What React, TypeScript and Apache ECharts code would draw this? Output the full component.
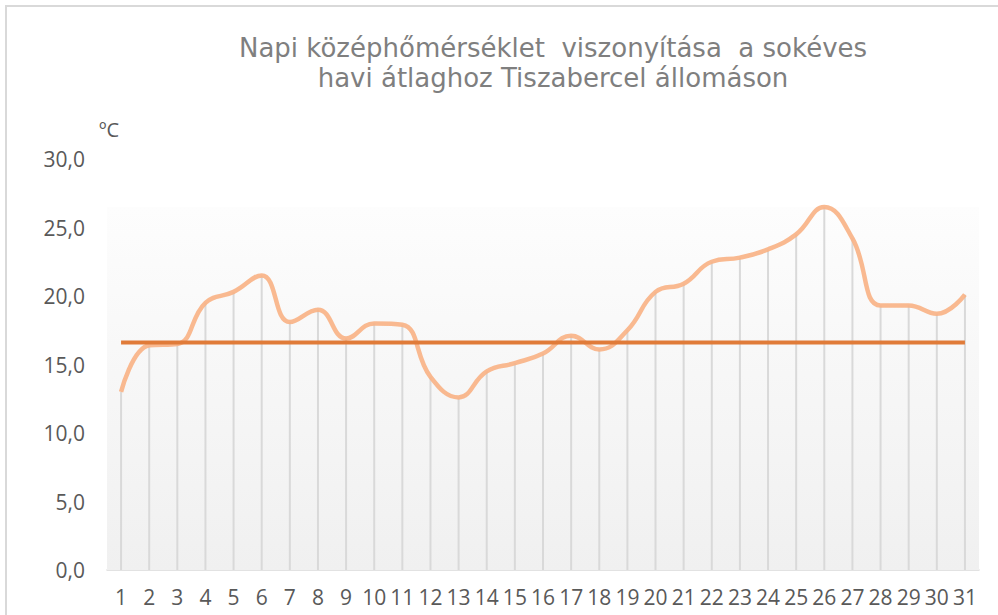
import React, { useEffect, useRef } from "react";
import * as echarts from "echarts";

const titleLines = [
  "Napi középhőmérséklet  viszonyítása  a sokéves",
  "havi átlaghoz Tiszabercel állomáson",
];
const unitLabel = "ºC";
const days = Array.from({ length: 31 }, (_, i) => String(i + 1));
const dailyMean = [
  13.0, 16.4, 16.5, 19.5, 20.3, 21.5, 18.1, 19.0, 16.9, 18.0, 17.9,
  14.1, 12.6, 14.5, 15.1, 15.8, 17.1, 16.1, 17.5, 20.3, 20.9, 22.5,
  22.8, 23.4, 24.5, 26.5, 24.2, 19.3, 19.3, 18.7, 20.1,
];
const longTermMean = 16.6;
const yMin = 0;
const yMax = 30;
const yInterval = 5;

export default function App() {
  const ref = useRef<HTMLDivElement>(null);
  useEffect(() => {
    if (!ref.current) return;
    const chart = echarts.init(ref.current, undefined, { renderer: "svg" });
    const bgTop = Math.max(...dailyMean);
    const labelFont = "'Open Sans', 'Liberation Sans', sans-serif";
    chart.setOption({
      animation: false,
      backgroundColor: "#ffffff",
      title: {
        text: titleLines.join("\n"),
        left: 548,
        top: 28,
        textAlign: "center",
        textStyle: {
          fontFamily: "'DejaVu Sans', Verdana, sans-serif",
          fontSize: 26,
          fontWeight: "normal",
          color: "#7f7f7f",
          lineHeight: 30,
        },
      },
      graphic: [
        {
          type: "rect",
          shape: { x: 6, y: 6, width: 1200, height: 1000 },
          style: { fill: "none", stroke: "#d9d9d9", lineWidth: 2 },
          silent: true,
        },
      ],
      grid: { left: 107, right: 19, top: 159, bottom: 45 },
      xAxis: {
        type: "category",
        data: days,
        boundaryGap: true,
        axisLine: { show: true, lineStyle: { color: "#d9d9d9", width: 1.5 } },
        axisTick: { show: false },
        axisLabel: {
          color: "#595959",
          fontSize: 21,
          fontFamily: labelFont,
          margin: 16,
          interval: 0,
        },
        splitLine: { show: false },
      },
      yAxis: {
        type: "value",
        min: yMin,
        max: yMax,
        interval: yInterval,
        name: unitLabel,
        nameLocation: "end",
        nameGap: 20,
        nameTextStyle: {
          color: "#595959",
          fontSize: 20,
          fontFamily: labelFont,
          align: "left",
          padding: [0, 0, 0, -8],
        },
        axisLine: { show: false },
        axisTick: { show: false },
        splitLine: { show: false },
        axisLabel: {
          color: "#595959",
          fontSize: 21,
          fontFamily: labelFont,
          margin: 22,
          formatter: (v: number) => v.toFixed(1).replace(".", ","),
        },
      },
      series: [
        {
          type: "bar",
          data: dailyMean,
          barWidth: 2,
          itemStyle: { color: "#d9d9d9" },
          silent: true,
          z: 1,
          markArea: {
            silent: true,
            itemStyle: {
              color: {
                type: "linear",
                x: 0,
                y: 0,
                x2: 0,
                y2: 1,
                colorStops: [
                  { offset: 0, color: "#fdfdfd" },
                  { offset: 1, color: "#f0f0f0" },
                ],
              },
            },
            data: [[{ yAxis: bgTop }, { yAxis: 0 }]],
          },
        },
        {
          type: "line",
          data: dailyMean,
          smooth: 0.45,
          symbol: "none",
          lineStyle: { color: "#f8b184", width: 4.5, opacity: 0.9 },
          z: 3,
        },
        {
          type: "line",
          data: days.map(() => longTermMean),
          symbol: "none",
          lineStyle: { color: "#e07b39", width: 4 },
          z: 4,
        },
      ],
    });
    return () => chart.dispose();
  }, []);
  return (
    <div
      ref={ref}
      style={{ position: "fixed", left: 0, top: 0, width: 998, height: 615 }}
    />
  );
}
